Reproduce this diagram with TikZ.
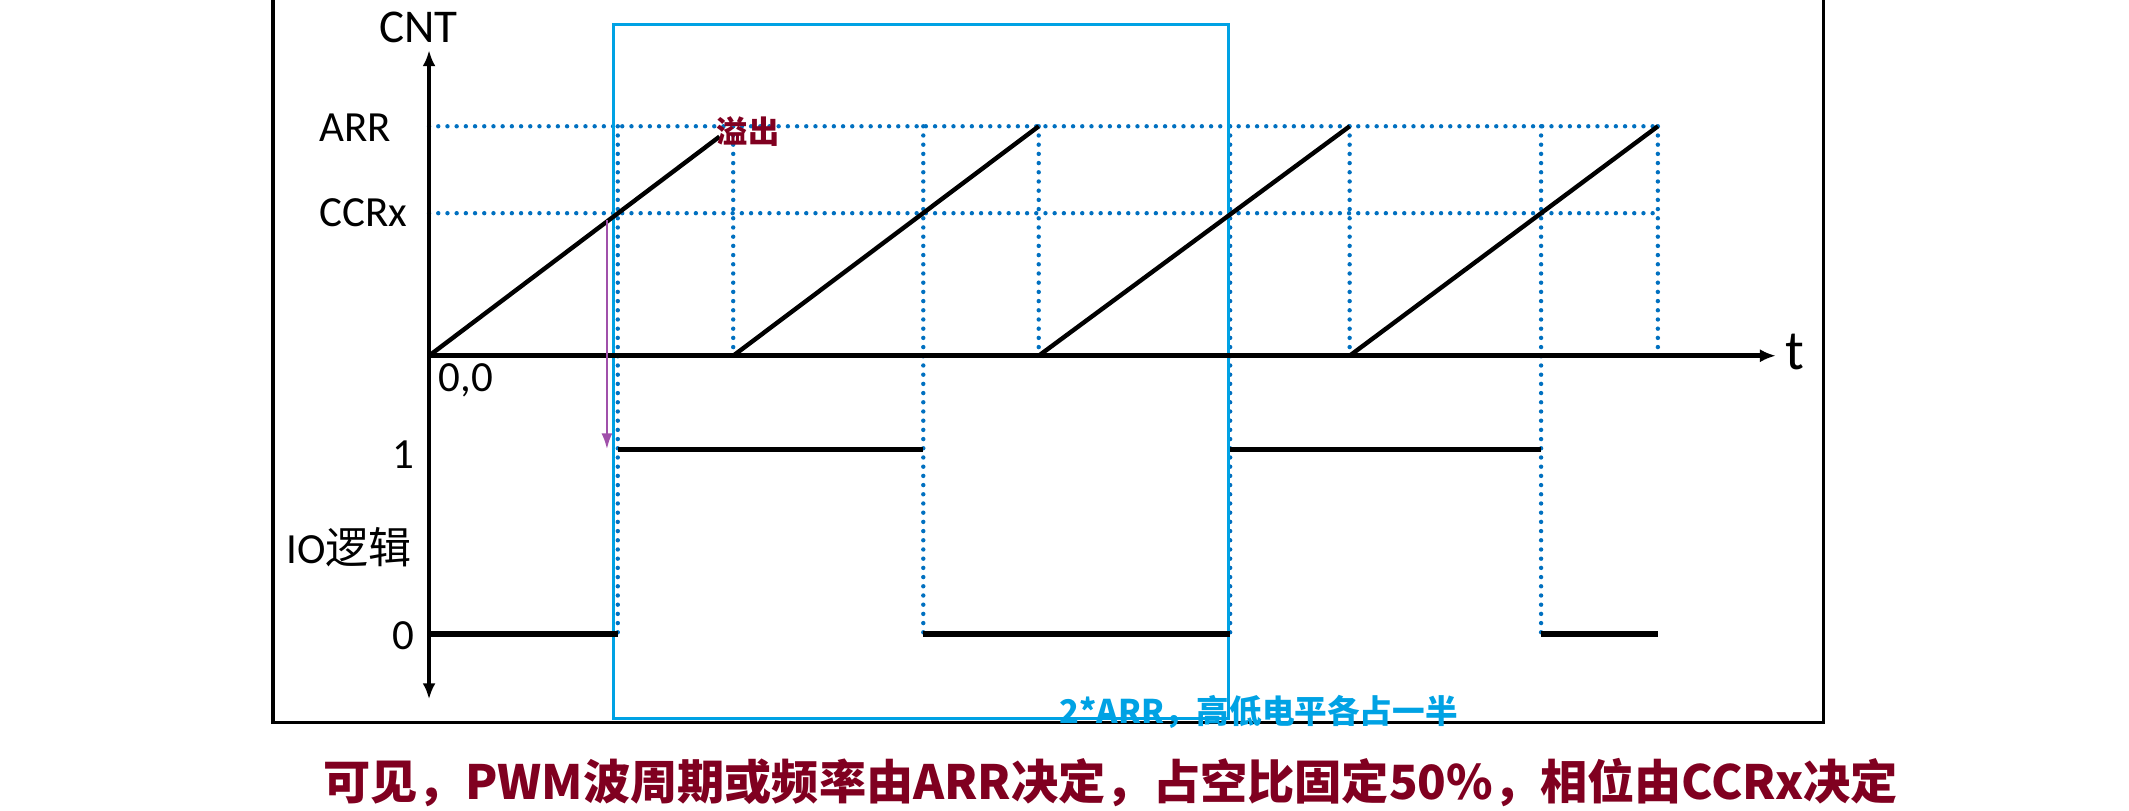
\documentclass[tikz,border=0pt]{standalone}
\usepackage{fontspec}
\setmainfont{Carlito}
\newfontfamily\cjk{Noto Sans CJK SC}
\usetikzlibrary{arrows.meta,calc}
\definecolor{dotblue}{RGB}{0,112,192}
\definecolor{boxblue}{RGB}{0,162,228}
\definecolor{darkred}{RGB}{128,0,32}
\definecolor{arrowpurple}{RGB}{160,80,170}
\begin{document}
\begin{tikzpicture}[x=0.6789pt,y=-0.6789pt,
  grid/.style={dotblue,line width=2.2pt,line cap=round,dash pattern=on 0pt off 4.6pt},
  wave/.style={black,line width=2.2pt},
  level/.style={black,line width=2.6pt},
  axis/.style={black,line width=2.3pt},
  frame/.style={black,line width=1.6pt},
  lbl/.style={inner sep=0pt,font=\fontsize{21.5}{24}\selectfont}]
\useasboundingbox (0,0) rectangle (1568,597);
% key points
\coordinate (O) at (316,262);
\coordinate (ytop) at (316,37);
\coordinate (ybot) at (316,515);
\coordinate (tend) at (1308,262);
\coordinate (arr0) at (316,93);
\coordinate (arr1) at (1221,93);
\coordinate (ccr0) at (316,157);
\coordinate (ccr1) at (1221,157);
% overflow points (top) and their feet on the t axis
\foreach \n/\x in {1/540,2/765,3/994,4/1221}{
  \coordinate (ov\n) at (\x,93);
  \coordinate (ft\n) at (\x,262);
}
% compare points (x of the CCRx crossings)
\foreach \n/\x in {1/455,2/680,3/906,4/1135}{
  \coordinate (ct\n) at (\x,93);
  \coordinate (hi\n) at (\x,331);
  \coordinate (lo\n) at (\x,467);
}
\coordinate (lo0) at (316,467);
\coordinate (lo5) at (1221,467);
% frame
\draw[frame] (201,0) -- (201,532) -- (1343,532) -- (1343,0);
% dotted grid
\draw[grid] (arr0) -- (arr1);
\draw[grid] (ccr0) -- (ccr1);
\foreach \n in {1,2,3,4}{
  \draw[grid] (ov\n) -- (ft\n);
  \draw[grid] (ct\n) -- (lo\n);
}
% blue period box
\draw[boxblue,line width=1.4pt] (452,18) rectangle (905,529);
% axes
\draw[axis,{Latex[length=8pt,width=6.5pt]}-{Latex[length=8pt,width=6.5pt]}] (ybot) -- (ytop);
\draw[axis,-{Latex[length=8pt,width=6.5pt]}] (O) -- (tend);
% saw-tooth counter
\draw[wave] (O) -- ($(O)!0.955!(ov1)$);
\draw[wave] (ft1) -- (ov2);
\draw[wave] (ft2) -- (ov3);
\draw[wave] (ft3) -- (ov4);
% IO level
\draw[level] (lo0) -- (lo1);
\draw[level] (hi1) -- (hi2);
\draw[level] (lo2) -- (lo3);
\draw[level] (hi3) -- (hi4);
\draw[level] (lo4) -- (lo5);
% purple arrow
\coordinate (pa) at (447,162);
\coordinate (pb) at (447,331);
\draw[arrowpurple,line width=1.4pt,-{Latex[length=8pt,width=5.5pt]}] (pa) -- (pb);
% labels
\node[lbl,font=\fontsize{23.5}{26}\selectfont] (cnt) at (308,20) {CNT};
\node[lbl,anchor=west] (larr) at (235,94) {ARR};
\node[lbl,anchor=west] (lccr) at (235,157) {CCRx};
\node[lbl] (l00) at (343,280) {0,0};
\node[lbl,font=\fontsize{28}{30}\selectfont] (lt) at (1322,259) {t};
\node[lbl] (l1) at (297,335) {1};
\node[lbl] (l0) at (297,468) {0};
\node[lbl] (lio) at (257,403) {IO{\cjk 逻辑}};
\node[inner sep=0pt,text=darkred,font=\cjk\bfseries\fontsize{15.6}{17}\selectfont] (ovf) at (551,97) {溢出};
\node[inner sep=0pt,text=boxblue,font=\cjk\bfseries\fontsize{16.3}{18}\selectfont] (per) at (927,524) {2*ARR，高低电平各占一半};
\node[inner sep=0pt,text=darkred,font=\cjk\bfseries\fontsize{23.6}{26}\selectfont] (concl) at (818,576) {可见，PWM波周期或频率由ARR决定，占空比固定50\%，相位由CCRx决定};
\end{tikzpicture}
\end{document}
